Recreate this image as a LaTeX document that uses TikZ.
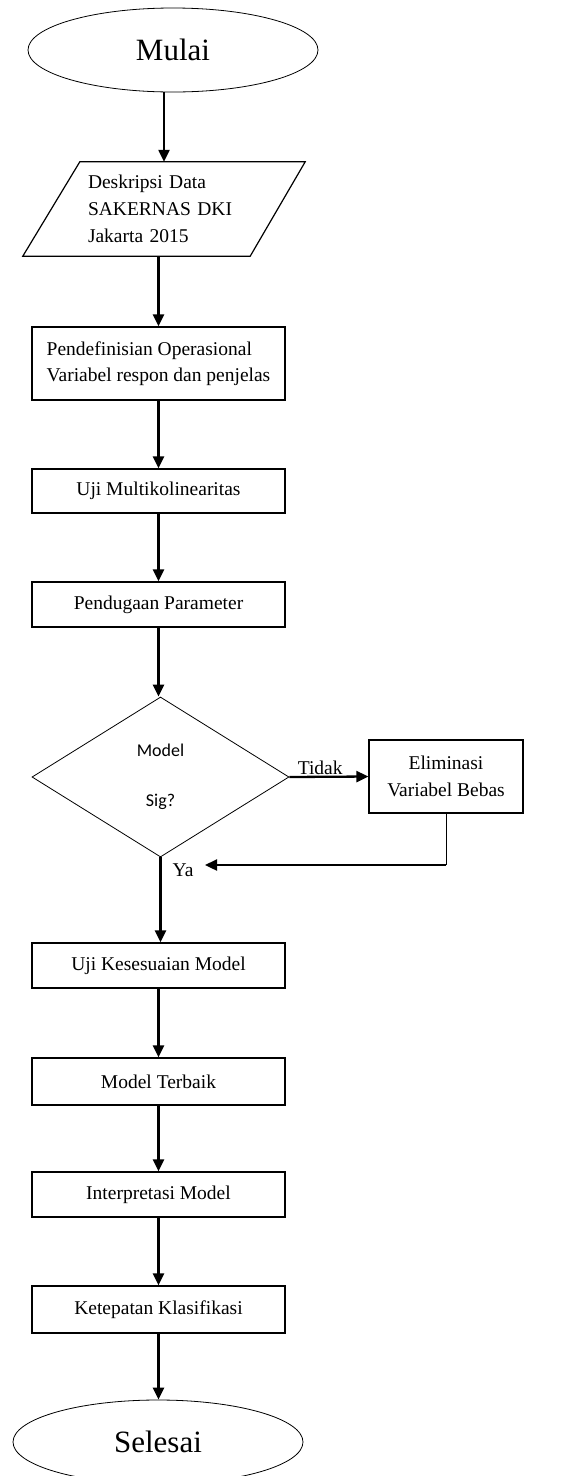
\documentclass[tikz,border=0pt]{standalone}
\usepackage{fontspec}
\setmainfont{Liberation Serif}
\newfontfamily\calib{Carlito}
\usetikzlibrary{shapes.geometric,arrows.meta}
\begin{document}
\begin{tikzpicture}[x=1pt,y=-1pt,
 every node/.style={font=\fontsize{19.5}{27}\selectfont},
 term/.style={ellipse, draw, line width=0.8pt, minimum width=290pt, minimum height=84pt, inner sep=0pt, font=\fontsize{31}{36}\selectfont},
 procbox/.style={rectangle, draw, line width=1.2pt, minimum width=253pt, minimum height=45pt, inner sep=0pt},
 decide/.style={diamond, draw, line width=0.8pt, minimum width=257pt, minimum height=160pt, inner sep=0pt, align=center, font=\calib\fontsize{18}{50}\selectfont},
 arr/.style={line width=2.3pt, -{Triangle[width=11pt,length=12pt]}},
]
\useasboundingbox (0,0) rectangle (568,1476);
\node[term] (mulai) at (173,50) {Mulai};
\node[minimum width=282pt, minimum height=94pt, inner sep=0pt, text width=152pt, align=left] (data) at (164,209) {Deskripsi Data\\SAKERNAS DKI\\Jakarta 2015};
\draw[line width=1.2pt] ([xshift=57pt]data.north west) -- (data.north east) -- ([xshift=-55pt]data.south east) -- (data.south west) -- cycle;
\node[procbox, minimum height=73pt, align=left, font=\fontsize{19.5}{26}\selectfont] (def) at (158.5,363.5) {Pendefinisian Operasional\\Variabel respon dan penjelas};
\node[procbox, minimum height=44pt] (uji) at (158.5,491) {Uji Multikolinearitas};
\node[procbox] (duga) at (158.5,604.5) {Pendugaan Parameter};
\node[decide] (dec) at (160.5,777) {Model\\Sig?};
\node[procbox, minimum width=154pt, minimum height=73pt, align=center] (elim) at (446,776.5) {Eliminasi\\Variabel Bebas};
\coordinate (ret) at (205,865);
\coordinate (corner) at (elim.south |- ret);
\node[procbox] (ujik) at (158.5,965.5) {Uji Kesesuaian Model};
\node[procbox, minimum height=47pt] (terbaik) at (158.5,1081.5) {Model Terbaik};
\node[procbox] (interp) at (158.5,1194.5) {Interpretasi Model};
\node[procbox, minimum height=47pt] (tepat) at (158.5,1309.5) {Ketepatan Klasifikasi};
\node[term] (selesai) at (158,1442) {Selesai};

\draw[arr] (mulai.south -| data.center) -- (data.north);
\draw[arr] (data.south -| def.north) -- (def.north);
\draw[arr] (def) -- (uji);
\draw[arr] (uji) -- (duga);
\draw[arr] (duga.south) -- (duga.south |- dec.north);
\draw[arr] (dec.east) -- node[above=1pt, pos=0.39, inner sep=0pt]{Tidak} (elim.west);
\draw[line width=1pt] (elim.south) -- (corner);
\draw[arr] (corner) -- (ret);
\draw[arr] (dec.south) -- node[pos=0.15, anchor=west, inner sep=0pt, xshift=11pt]{Ya} (dec.south |- ujik.north);
\draw[arr] (ujik) -- (terbaik);
\draw[arr] (terbaik) -- (interp);
\draw[arr] (interp) -- (tepat);
\draw[arr] (tepat.south) -- (tepat.south |- selesai.north);
\end{tikzpicture}
\end{document}
